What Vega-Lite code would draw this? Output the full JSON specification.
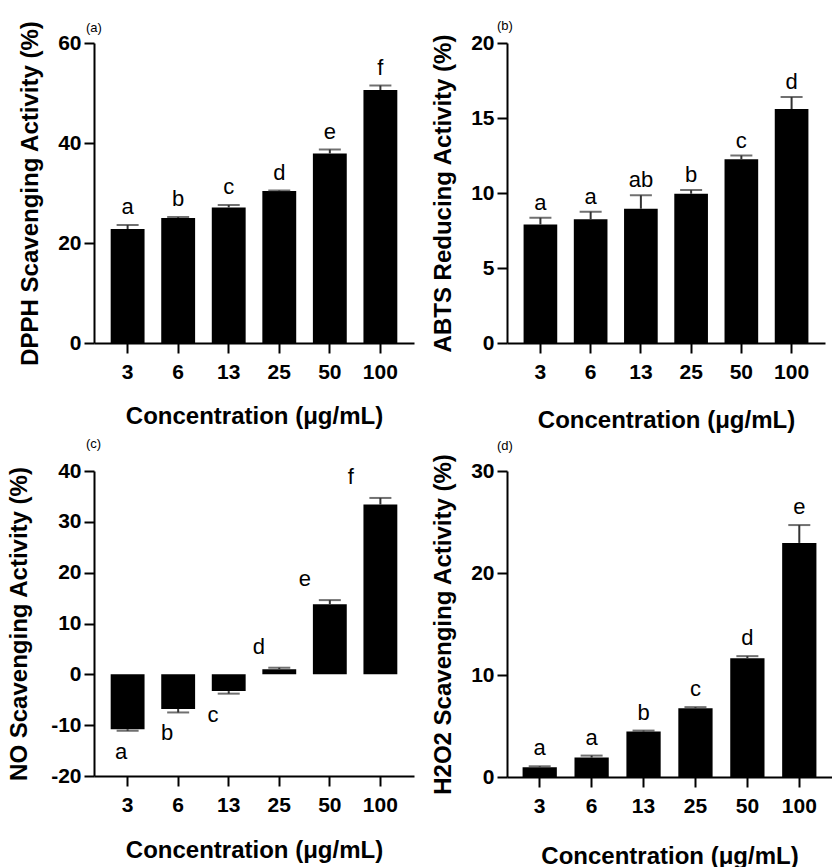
{
  "$schema": "https://vega.github.io/schema/vega-lite/v6.json",
  "padding": {"left": 7, "top": 20, "right": 0, "bottom": 0},
  "background": "white",
  "bounds": "flush",
  "columns": 2,
  "spacing": {"row": 128, "column": 93},
  "config": {
    "font": "Liberation Sans",
    "view": {"stroke": null},
    "axis": {
      "grid": false,
      "domainColor": "black",
      "domainWidth": 2,
      "tickColor": "black",
      "tickWidth": 2,
      "tickSize": 10,
      "labelColor": "black",
      "labelFont": "Liberation Sans",
      "labelFontWeight": "bold",
      "labelFontSize": 21,
      "titleColor": "black",
      "titleFont": "Liberation Sans",
      "titleFontWeight": "bold",
      "titleFontSize": 24
    },
    "axisX": {"labelAngle": 0, "labelPadding": 8, "titlePadding": 22},
    "axisY": {"labelPadding": 3, "titlePadding": 15, "labelExpr": "'' + datum.value"},
    "title": {"fontSize": 13, "fontWeight": "normal", "anchor": "start", "frame": "group", "color": "black", "font": "Liberation Sans"},
    "text": {"font": "Liberation Sans", "fontSize": 22, "color": "black"}
  },
  "datasets": {
    "dpph": [
      {"conc": "3", "mean": 22.8, "err": 23.6, "letter": "a"},
      {"conc": "6", "mean": 25.0, "err": 25.2, "letter": "b"},
      {"conc": "13", "mean": 27.1, "err": 27.6, "letter": "c"},
      {"conc": "25", "mean": 30.4, "err": 30.5, "letter": "d"},
      {"conc": "50", "mean": 37.9, "err": 38.7, "letter": "e"},
      {"conc": "100", "mean": 50.6, "err": 51.5, "letter": "f"}
    ],
    "abts": [
      {"conc": "3", "mean": 7.9, "err": 8.35, "letter": "a"},
      {"conc": "6", "mean": 8.25, "err": 8.75, "letter": "a"},
      {"conc": "13", "mean": 8.95, "err": 9.85, "letter": "ab"},
      {"conc": "25", "mean": 9.95, "err": 10.2, "letter": "b"},
      {"conc": "50", "mean": 12.25, "err": 12.5, "letter": "c"},
      {"conc": "100", "mean": 15.6, "err": 16.4, "letter": "d"}
    ],
    "no": [
      {"conc": "3", "mean": -10.8, "err": -11.1, "letter": "a"},
      {"conc": "6", "mean": -6.8, "err": -7.5, "letter": "b"},
      {"conc": "13", "mean": -3.3, "err": -3.8, "letter": "c"},
      {"conc": "25", "mean": 1.0, "err": 1.3, "letter": "d"},
      {"conc": "50", "mean": 13.8, "err": 14.6, "letter": "e"},
      {"conc": "100", "mean": 33.4, "err": 34.7, "letter": "f"}
    ],
    "h2o2": [
      {"conc": "3", "mean": 0.95, "err": 1.05, "letter": "a"},
      {"conc": "6", "mean": 1.9, "err": 2.1, "letter": "a"},
      {"conc": "13", "mean": 4.45, "err": 4.55, "letter": "b"},
      {"conc": "25", "mean": 6.75, "err": 6.85, "letter": "c"},
      {"conc": "50", "mean": 11.65, "err": 11.85, "letter": "d"},
      {"conc": "100", "mean": 22.95, "err": 24.7, "letter": "e"}
    ]
  },
  "concat": [
    {
      "width": 320, "height": 300,
      "title": {"text": "(a)", "offset": -15, "dx": -8},
      "data": {"name": "dpph"},
      "encoding": {
        "x": {"field": "conc", "type": "ordinal", "sort": ["3", "6", "13", "25", "50", "100"],
              "scale": {"paddingInner": 0.33, "paddingOuter": 0.33},
              "axis": {"title": "Concentration (μg/mL)", "titlePadding": 22}}
      },
      "layer": [
        {"mark": {"type": "bar", "color": "black"},
         "encoding": {"y": {"field": "mean", "type": "quantitative", "scale": {"domain": [0, 60]},
                            "axis": {"values": [0, 20, 40, 60], "title": "DPPH Scavenging Activity (%)"}}}},
        {"mark": {"type": "rule", "color": "#333333", "strokeWidth": 2},
         "encoding": {"y": {"field": "mean", "type": "quantitative"}, "y2": {"field": "err"}}},
        {"mark": {"type": "tick", "color": "#333333", "thickness": 2, "size": 22, "orient": "horizontal"},
         "encoding": {"y": {"field": "err", "type": "quantitative"}}},
        {"mark": {"type": "text", "baseline": "alphabetic", "dy": -11},
         "encoding": {"y": {"field": "err", "type": "quantitative"}, "text": {"field": "letter"}}}
      ]
    },
    {
      "width": 318, "height": 300,
      "title": {"text": "(b)", "offset": -1, "dx": -10},
      "data": {"name": "abts"},
      "encoding": {
        "x": {"field": "conc", "type": "ordinal", "sort": ["3", "6", "13", "25", "50", "100"],
              "scale": {"paddingInner": 0.33, "paddingOuter": 0.33},
              "axis": {"title": "Concentration (μg/mL)", "titlePadding": 26}}
      },
      "layer": [
        {"mark": {"type": "bar", "color": "black"},
         "encoding": {"y": {"field": "mean", "type": "quantitative", "scale": {"domain": [0, 20]},
                            "axis": {"values": [0, 5, 10, 15, 20], "title": "ABTS Reducing Activity (%)"}}}},
        {"mark": {"type": "rule", "color": "#333333", "strokeWidth": 2},
         "encoding": {"y": {"field": "mean", "type": "quantitative"}, "y2": {"field": "err"}}},
        {"mark": {"type": "tick", "color": "#333333", "thickness": 2, "size": 22, "orient": "horizontal"},
         "encoding": {"y": {"field": "err", "type": "quantitative"}}},
        {"mark": {"type": "text", "baseline": "alphabetic", "dy": -8},
         "encoding": {"y": {"field": "err", "type": "quantitative"}, "text": {"field": "letter"}}}
      ]
    },
    {
      "width": 320, "height": 305,
      "title": {"text": "(c)", "offset": 9, "dx": -8},
      "data": {"name": "no"},
      "resolve": {"scale": {"x": "independent"}, "axis": {"x": "independent"}},
      "layer": [
        {
          "encoding": {
            "x": {"field": "conc", "type": "ordinal", "sort": ["3", "6", "13", "25", "50", "100"],
                  "scale": {"paddingInner": 0.33, "paddingOuter": 0.33},
                  "axis": {"title": "Concentration (μg/mL)", "titlePadding": 23}}
          },
          "layer": [
            {"mark": {"type": "bar", "color": "black"},
             "encoding": {"y": {"field": "mean", "type": "quantitative", "scale": {"domain": [-20, 40]},
                                "axis": {"values": [-20, -10, 0, 10, 20, 30, 40], "title": "NO Scavenging Activity (%)", "titlePadding": 19}}}},
            {"mark": {"type": "rule", "color": "black", "strokeWidth": 2},
             "encoding": {"y": {"datum": 0}}},
            {"mark": {"type": "rule", "color": "#333333", "strokeWidth": 2},
             "encoding": {"y": {"field": "mean", "type": "quantitative"}, "y2": {"field": "err"}}},
            {"mark": {"type": "tick", "color": "#333333", "thickness": 2, "size": 22, "orient": "horizontal"},
             "encoding": {"y": {"field": "err", "type": "quantitative"}}}
          ]
        },
        {
          "encoding": {
            "x": {"field": "conc", "type": "ordinal", "sort": ["3", "6", "13", "25", "50", "100"],
                  "scale": {"type": "point", "padding": 0.98, "align": 0.3},
                  "axis": null}
          },
          "layer": [
            {"transform": [{"filter": "datum.mean >= 0"}],
             "mark": {"type": "text", "baseline": "alphabetic", "dy": -14},
             "encoding": {"y": {"field": "err", "type": "quantitative"}, "text": {"field": "letter"}}},
            {"transform": [{"filter": "datum.mean < 0"}],
             "mark": {"type": "text", "baseline": "top", "dy": 11},
             "encoding": {"y": {"field": "err", "type": "quantitative"}, "text": {"field": "letter"}}}
          ]
        }
      ]
    },
    {
      "width": 325, "height": 306,
      "title": {"text": "(d)", "offset": 0, "dx": -10},
      "data": {"name": "h2o2"},
      "encoding": {
        "x": {"field": "conc", "type": "ordinal", "sort": ["3", "6", "13", "25", "50", "100"],
              "scale": {"paddingInner": 0.34, "paddingOuter": 0.3},
              "axis": {"title": "Concentration (μg/mL)", "titlePadding": 28}}
      },
      "layer": [
        {"mark": {"type": "bar", "color": "black"},
         "encoding": {"y": {"field": "mean", "type": "quantitative", "scale": {"domain": [0, 30]},
                            "axis": {"values": [0, 10, 20, 30], "title": "H2O2 Scavenging Activity (%)"}}}},
        {"mark": {"type": "rule", "color": "#333333", "strokeWidth": 2},
         "encoding": {"y": {"field": "mean", "type": "quantitative"}, "y2": {"field": "err"}}},
        {"mark": {"type": "tick", "color": "#333333", "thickness": 2, "size": 22, "orient": "horizontal"},
         "encoding": {"y": {"field": "err", "type": "quantitative"}}},
        {"mark": {"type": "text", "baseline": "alphabetic", "dy": -11},
         "encoding": {"y": {"field": "err", "type": "quantitative"}, "text": {"field": "letter"}}}
      ]
    }
  ]
}
